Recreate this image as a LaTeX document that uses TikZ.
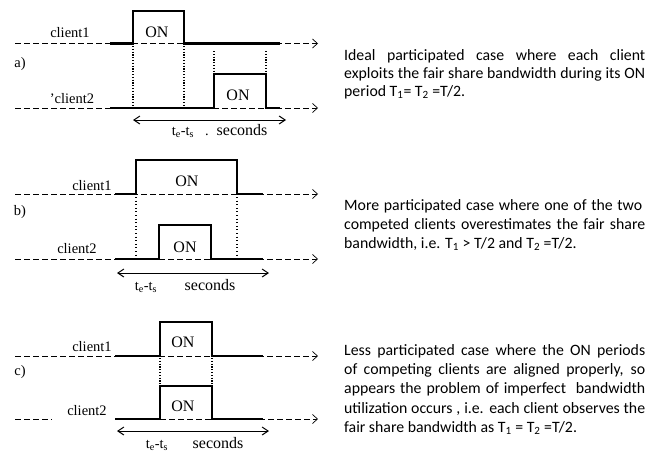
\documentclass[tikz,border=0pt]{standalone}
\usepackage{fontspec}
\setmainfont{Liberation Serif}
\newfontfamily\descfont{Carlito}
\usetikzlibrary{arrows.meta}
\begin{document}
\begin{tikzpicture}[x=1pt,y=-1pt,
  axis/.style={line width=0.7pt, dash pattern=on 5.5pt off 3.5pt, -{Straight Barb[length=5pt,width=9pt]}},
  axisplain/.style={line width=0.7pt, dash pattern=on 5.5pt off 3.5pt},
  sig/.style={line width=2.4pt, line join=miter},
  vdotA/.style={line width=2pt, dash pattern=on 1.2pt off 1.6pt},
  vdotB/.style={line width=1.3pt, dash pattern=on 1pt off 2.6pt},
  spanarrow/.style={line width=1pt, {Straight Barb[length=6pt,width=8pt]}-{Straight Barb[length=6pt,width=8pt]}},
  lbl/.style={font=\fontsize{14.5}{16}\selectfont, inner sep=0pt, anchor=base},
  onlbl/.style={font=\fontsize{16}{18}\selectfont, inner sep=0pt, anchor=base},
  desc/.style={font=\descfont\fontsize{15.8}{18}\selectfont, inner sep=0pt, anchor=base west}]
\useasboundingbox (0,0) rectangle (658,455);

% ---------- a) ----------
\coordinate (a1s) at (15,43.5); \coordinate (a1e) at (318,43.5);
\coordinate (a2s) at (15,108); \coordinate (a2e) at (318,108);
\draw[axis] (a1s) -- (a1e);
\draw[axis] (a2s) -- (a2e);
\draw[sig] (110,43.5) -- (133,43.5) -- (133,11) -- (184,11) -- (184,43.5) -- (280,43.5);
\draw[sig] (110,108) -- (214,108) -- (214,74) -- (266,74) -- (266,108) -- (280,108);
\draw[vdotA] (133,46) -- (133,107);
\draw[vdotA] (184,46) -- (184,107);
\draw[vdotA] (214,51) -- (214,73);
\draw[vdotA] (266,51) -- (266,73);
\coordinate (aL) at (133,120); \coordinate (aR) at (286,120);
\draw[spanarrow] (aL) -- (aR);
\node[lbl] (ac1) at (70,37) {client1};
\node[onlbl] (aon1) at (157,37) {ON};
\node[lbl] (alab) at (20,67) {a)};
\node[lbl] (ac2) at (72,103) {'client2};
\node[onlbl] (aon2) at (238,100) {ON};
\node[lbl] (ats) at (183,135) {t\textsubscript{e}-t\textsubscript{s}};
\node[lbl] (adot) at (207,135) {.};
\node[onlbl] (asec) at (242,135) {seconds};

% ---------- b) ----------
\coordinate (b1s) at (15,194); \coordinate (b1e) at (318,194);
\coordinate (b2s) at (15,259); \coordinate (b2e) at (318,259);
\draw[axis] (b1s) -- (b1e);
\draw[axis] (b2s) -- (b2e);
\draw[sig] (115,194) -- (136,194) -- (136,160) -- (237,160) -- (237,194) -- (263,194);
\draw[sig] (115,259) -- (159,259) -- (159,225) -- (211,225) -- (211,259) -- (263,259);
\draw[vdotB] (136,197) -- (136,258);
\draw[vdotB] (237,197) -- (237,258);
\coordinate (bL) at (117,273); \coordinate (bR) at (269,273);
\draw[spanarrow] (bL) -- (bR);
\node[lbl] (bc1) at (92,190) {client1};
\node[onlbl] (bon1) at (187,186) {ON};
\node[lbl] (blab) at (20,215) {b)};
\node[lbl] (bc2) at (77,253) {client2};
\node[onlbl] (bon2) at (185,252) {ON};
\node[lbl] (bts) at (146,290) {t\textsubscript{e}-t\textsubscript{s}};
\node[onlbl] (bsec) at (210,290) {seconds};

% ---------- c) ----------
\coordinate (c1s) at (15,356); \coordinate (c1e) at (318,356);
\coordinate (c2s) at (15,419); \coordinate (c2m) at (52,419);
\coordinate (c2r) at (115,419); \coordinate (c2e) at (318,419);
\draw[axis] (c1s) -- (c1e);
\draw[axisplain] (c2s) -- (c2m);
\draw[axis] (c2r) -- (c2e);
\draw[sig] (115,356) -- (160,356) -- (160,322) -- (212,322) -- (212,356) -- (263,356);
\draw[sig] (115,419) -- (160,419) -- (160,386) -- (212,386) -- (212,419) -- (263,419);
\draw[vdotA] (160,358) -- (160,385);
\draw[vdotA] (212,358) -- (212,385);
\coordinate (cL) at (117,431); \coordinate (cR) at (269,431);
\draw[spanarrow] (cL) -- (cR);
\node[lbl] (cc1) at (92,351) {client1};
\node[onlbl] (con1) at (183,347) {ON};
\node[lbl] (clab) at (20,375) {c)};
\node[lbl] (cc2) at (87,415) {client2};
\node[onlbl] (con2) at (183,411) {ON};
\node[lbl] (cts) at (157,448) {t\textsubscript{e}-t\textsubscript{s}};
\node[onlbl] (csec) at (218,448) {seconds};

% ---------- descriptions ----------
\node[desc] (da1) at (344,60) {\makebox[301pt][s]{Ideal participated case where each client}};
\node[desc] (da2) at (344,78) {\makebox[301pt][s]{exploits the fair share bandwidth during its ON}};
\node[desc] (da3) at (344,96) {period T\textsubscript{1}= T\textsubscript{2} =T/2.};

\node[desc] (db1) at (344,210) {\makebox[298pt][s]{More participated case where one of the two}};
\node[desc] (db2) at (344,229) {\makebox[301pt][s]{competed clients overestimates the fair share}};
\node[desc] (db3) at (344,248) {bandwidth, i.e. T\textsubscript{1} > T/2 and T\textsubscript{2} =T/2.};

\node[desc] (dc1) at (344,355) {\makebox[301pt][s]{Less participated case where the ON periods}};
\node[desc] (dc2) at (344,374) {\makebox[301pt][s]{of competing clients are aligned properly, so}};
\node[desc] (dc3) at (344,393) {\makebox[301pt][s]{appears the problem of imperfect\ \ bandwidth}};
\node[desc] (dc4) at (344,413) {\makebox[301pt][s]{utilization occurs , i.e. each client observes the}};
\node[desc] (dc5) at (344,432) {fair share bandwidth as T\textsubscript{1} = T\textsubscript{2} =T/2.};
\end{tikzpicture}
\end{document}
